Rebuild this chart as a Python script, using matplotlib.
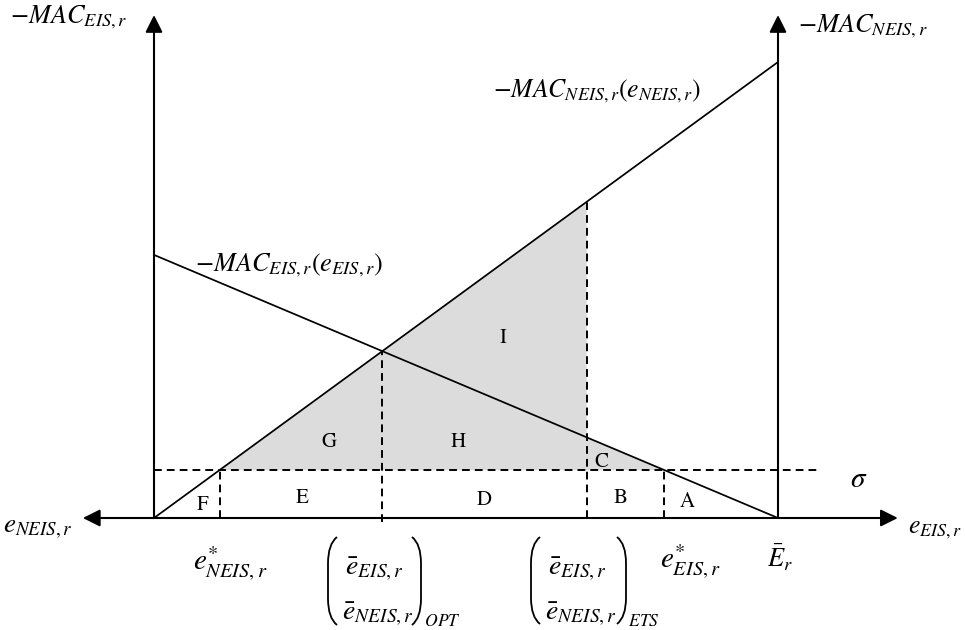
import numpy as np
import matplotlib
matplotlib.use('Agg')
import matplotlib.pyplot as plt
from matplotlib.patches import Polygon, PathPatch
from matplotlib.path import Path

plt.rcParams['mathtext.fontset'] = 'stix'
plt.rcParams['font.family'] = ['STIXGeneral', 'DejaVu Sans']

# ---------------- data (model units) ----------------
E_bar = 10.0            # total emissions (right vertical axis)
mac_neis_max = 10.0     # -MAC_NEIS at e_NEIS = E_bar
mac_eis_max = 5.77      # -MAC_EIS at e_EIS = 0
sigma = 1.05            # permit price
e_eis_ets = 6.934       # ETS allocation point
axis_top = 11.03
axis_left_tip = -1.14
axis_right_tip = 11.92
sigma_line_end = 10.67

region_labels = ['A', 'B', 'C', 'D', 'E', 'F', 'G', 'H', 'I']
region_label_px = [(687, 507), (621, 503), (601, 467), (484, 505), (302, 503),
                   (203, 510), (329, 447), (458, 447), (503, 343)]

# ---------------- geometry helpers ----------------
W, H = 965, 630
X0_PX, Y0_PX = 154.0, 518.0
SX, SY = 62.4, 45.6


def P(px, py):
    """pixel position -> data coordinates (for label placement)"""
    return ((px - X0_PX) / SX, (Y0_PX - py) / SY)


def neis(x):
    return mac_neis_max * x / E_bar


def eis(x):
    return mac_eis_max * (1 - x / E_bar)


x_opt = mac_eis_max * E_bar / (mac_neis_max + mac_eis_max)
y_opt = neis(x_opt)
x_neis_star = sigma * E_bar / mac_neis_max
x_eis_star = E_bar * (1 - sigma / mac_eis_max)

fig = plt.figure(figsize=(W / 100, H / 100), dpi=100)
ax = fig.add_axes([0, 0, 1, 1])
ax.set_xlim(-X0_PX / SX, (W - X0_PX) / SX)
ax.set_ylim(-(H - Y0_PX) / SY, Y0_PX / SY)
ax.axis('off')

# shaded area G+H+I+C
poly = Polygon([(x_neis_star, sigma), (e_eis_ets, neis(e_eis_ets)),
                (e_eis_ets, eis(e_eis_ets)), (x_eis_star, sigma)],
               closed=True, facecolor='#dcdcdc', edgecolor='none', zorder=1)
ax.add_patch(poly)

# MAC curves
xs = np.array([0.0, E_bar])
ax.plot(xs, neis(xs), color='black', lw=1.25, zorder=3)
ax.plot(xs, eis(xs), color='black', lw=1.25, zorder=3)

# dashed lines
dash = dict(color='black', lw=1.4, linestyle=(0, (4.0, 2.6)), zorder=2)
ax.plot([0, sigma_line_end], [sigma, sigma], **dash)
ax.plot([x_neis_star, x_neis_star], [0, sigma], **dash)
ax.plot([x_eis_star, x_eis_star], [0, sigma], **dash)
ax.plot([x_opt, x_opt], [-0.09, y_opt], **dash)
ax.plot([e_eis_ets, e_eis_ets], [0, neis(e_eis_ets)], **dash)

# axes with arrows
arr = dict(color='black', lw=1.5, mutation_scale=26, shrinkA=0, shrinkB=0)
ax.annotate('', xy=(axis_right_tip, 0), xytext=(axis_left_tip, 0),
            arrowprops=dict(arrowstyle='<|-|>', **arr), zorder=4)
ax.annotate('', xy=(0, axis_top), xytext=(0, 0),
            arrowprops=dict(arrowstyle='-|>', **arr), zorder=4)
ax.annotate('', xy=(E_bar, axis_top), xytext=(E_bar, 0),
            arrowprops=dict(arrowstyle='-|>', **arr), zorder=4)

# region letters
for lab, (px, py) in zip(region_labels, region_label_px):
    ax.text(*P(px, py), lab, fontsize=15, ha='center', va='baseline', zorder=5)


def T(px, py, s, size, **kw):
    ax.text(*P(px, py), s, fontsize=size, ha='left', va='baseline', zorder=5, **kw)


T(10, 23, r'$-MAC_{EIS,r}$', 19)
T(798, 32, r'$-MAC_{NEIS,r}$', 19)
T(493, 97, r'$-MAC_{NEIS,r}(e_{NEIS,r})$', 18.5)
T(195, 271, r'$-MAC_{EIS,r}(e_{EIS,r})$', 19)
T(3, 533, r'$e_{NEIS,r}$', 19.5)
T(908, 533, r'$e_{EIS,r}$', 18.5)
T(850, 487, r'$\sigma$', 21)
T(193, 570, r'$e^{*}_{NEIS,r}$', 21)
T(660, 568, r'$e^{*}_{EIS,r}$', 21)
T(767, 567, r'$\bar{E}_r$', 19)

# stacked vectors
T(345, 575, r'$\bar{e}_{EIS,r}$', 20)
T(342, 620, r'$\bar{e}_{NEIS,r}$', 20)
T(424, 623, r'$_{OPT}$', 18)
T(548, 575, r'$\bar{e}_{EIS,r}$', 20)
T(545, 620, r'$\bar{e}_{NEIS,r}$', 20)
T(628, 623, r'$_{ETS}$', 18)


def paren(xl, xr, yt, yb, left=True):
    h = yb - yt
    if left:
        outer, inner = xl, xr
    else:
        outer, inner = xr, xl
    pts = [P(inner, yt), P(outer, yt + 0.08 * h), P(outer, yt + 0.3 * h),
           P(outer, yb - 0.3 * h), P(outer, yb - 0.08 * h), P(inner, yb)]
    codes = [Path.MOVETO, Path.CURVE3, Path.CURVE3, Path.LINETO,
             Path.CURVE3, Path.CURVE3]
    ax.add_patch(PathPatch(Path(pts, codes), facecolor='none',
                           edgecolor='black', lw=1.3, zorder=5))


paren(328, 337, 537, 625, left=True)
paren(412, 421, 537, 625, left=False)
paren(531, 540, 537, 624, left=True)
paren(617, 626, 537, 624, left=False)

fig.savefig('out.png', dpi=100)
